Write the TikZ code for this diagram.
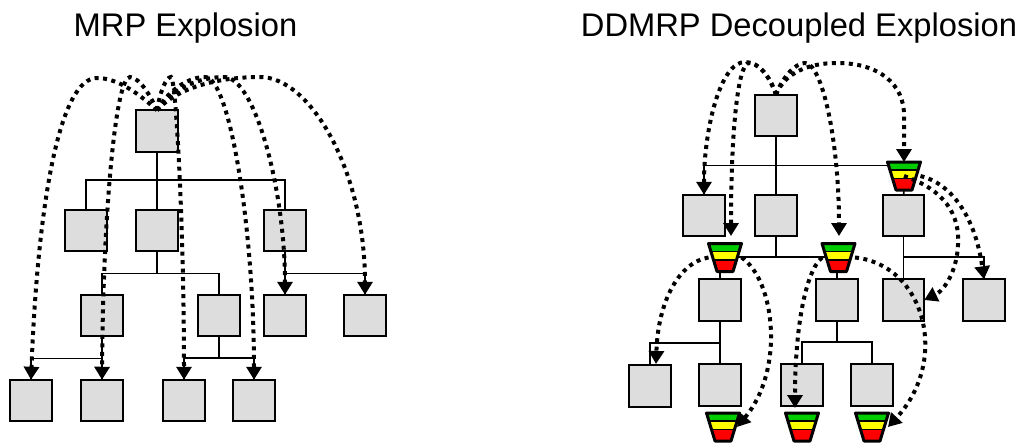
\documentclass[tikz,border=0pt]{standalone}
\usepackage{fontspec}
\setmainfont{Liberation Sans}
\usetikzlibrary{arrows.meta}
\pgfdeclarelayer{edgelayer}
\pgfdeclarelayer{nodelayer}
\pgfsetlayers{edgelayer,nodelayer,main}
\definecolor{boxgray}{RGB}{221,221,221}
\definecolor{bandgreen}{RGB}{0,204,0}
\definecolor{bandyellow}{RGB}{255,255,0}
\definecolor{bandred}{RGB}{255,0,0}
\tikzstyle{partbox}=[rectangle, fill=boxgray, draw=black, line width=1.6pt, minimum size=41.5pt, inner sep=0pt, outer sep=0pt]
\tikzstyle{stackbox}=[rectangle, minimum width=33pt, minimum height=28pt, inner sep=0pt, outer sep=0pt]
\tikzstyle{link}=[-, draw=black, line width=1.6pt]
\tikzstyle{flow}=[draw=black, line width=4pt, dash pattern=on 4pt off 4.5pt, -{Triangle[width=15pt,length=13pt]}]
\tikzstyle{title}=[font=\fontsize{32.7}{36}\selectfont, inner sep=0pt]
\newcommand{\funnel}[3]{
    \node [style=stackbox] (#1) at (#2, #3) {};
    \begin{scope}[shift={(#2, #3)}]
        \begin{scope}
            \clip (-16.5, -14) -- (16.5, -14) -- (8, 14) -- (-8, 14) -- cycle;
            \fill [bandgreen] (-17, -14) rectangle (17, -6);
            \fill [bandyellow] (-17, -6) rectangle (17, 2.5);
            \fill [bandred] (-17, 2.5) rectangle (17, 14);
            \draw [style=link] (-17, -6) -- (17, -6);
            \draw [style=link] (-17, 2.5) -- (17, 2.5);
        \end{scope}
        \draw [line width=3pt, line join=round] (-16.5, -14) -- (16.5, -14) -- (8, 14) -- (-8, 14) -- cycle;
    \end{scope}
}
\begin{document}
\begin{tikzpicture}[x=1pt, y=-1pt]
    \useasboundingbox (0, 0) rectangle (1021, 444);
    \node [style=title] (mrp) at (185.5, 28) {MRP Explosion};
    \node [style=title] (ddmrp) at (799, 28) {DDMRP Decoupled Explosion};

    % left chart
    \begin{pgfonlayer}{nodelayer}
        \node [style=partbox] (l0) at (157, 131) {};
        \node [style=partbox] (l1) at (86, 230.5) {};
        \node [style=partbox] (l2) at (157, 230.5) {};
        \node [style=partbox] (l3) at (285, 230.5) {};
        \node [style=partbox] (l4) at (102, 315.5) {};
        \node [style=partbox] (l5) at (219, 315.5) {};
        \node [style=partbox] (l6) at (285, 315.5) {};
        \node [style=partbox] (l7) at (365, 315.5) {};
        \node [style=partbox] (l8) at (31, 400.5) {};
        \node [style=partbox] (l9) at (102, 400.5) {};
        \node [style=partbox] (l10) at (184, 400.5) {};
        \node [style=partbox] (l11) at (254, 400.5) {};
    \end{pgfonlayer}
    \coordinate (lbusa) at (157, 180);
    \coordinate (lbusb) at (157, 273.5);
    \coordinate (lbusc) at (285, 273.5);
    \coordinate (lbusd) at (102, 358.5);
    \coordinate (lbuse) at (219, 358);
    \begin{pgfonlayer}{edgelayer}
        \draw [style=link] (l0) to (l2);
        \draw [style=link] (l1.north) |- (lbusa) -| (l3.north);
        \draw [style=link] (l2) to (lbusb);
        \draw [style=link] (l4.north) |- (lbusb) -| (l5.north);
        \draw [style=link] (l3) to (l6);
        \draw [style=link] (lbusc) -| (l7.north);
        \draw [style=link] (l4) to (l9);
        \draw [style=link] (lbusd) -| (l8.north);
        \draw [style=link] (l5) to (lbuse);
        \draw [style=link] (l10.north) |- (lbuse) -| (l11.north);
    \end{pgfonlayer}
    \draw [style=flow] (l0.north) .. controls (135, 90) and (115, 78) .. (97, 78) .. controls (60, 78) and (38, 200) .. (l8.north);
    \draw [style=flow] (l0.north) .. controls (150, 95) and (140, 78) .. (130, 77) .. controls (115, 77) and (103, 220) .. (l9.north);
    \draw [style=flow] (l0.north) .. controls (160, 92) and (166, 77) .. (171, 77) .. controls (176, 77) and (184, 230) .. (l10.north);
    \draw [style=flow] (l0.north) .. controls (170, 88) and (190, 77) .. (205, 77) .. controls (230, 77) and (254, 230) .. (l11.north);
    \draw [style=flow] (l0.north) .. controls (175, 85) and (205, 77) .. (224, 77) .. controls (255, 77) and (285, 190) .. (l6.north);
    \draw [style=flow] (l0.north) .. controls (180, 85) and (225, 77) .. (260, 77) .. controls (310, 77) and (365, 170) .. (l7.north);

    % right chart
    \begin{pgfonlayer}{nodelayer}
        \node [style=partbox] (r0) at (776, 115.5) {};
        \node [style=partbox] (r1) at (704, 215.5) {};
        \node [style=partbox] (r2) at (776, 215.5) {};
        \node [style=partbox] (r3) at (903.5, 215.5) {};
        \node [style=partbox] (r4) at (720, 300) {};
        \node [style=partbox] (r5) at (837, 300) {};
        \node [style=partbox] (r6) at (903.5, 300) {};
        \node [style=partbox] (r7) at (984, 300) {};
        \node [style=partbox] (r8) at (650, 386) {};
        \node [style=partbox] (r9) at (720, 385) {};
        \node [style=partbox] (r10) at (802, 385) {};
        \node [style=partbox] (r11) at (872, 385) {};
    \end{pgfonlayer}
    \coordinate (rbusa) at (776, 165.5);
    \coordinate (rbusb) at (776, 257);
    \coordinate (rbusc) at (903.5, 257);
    \coordinate (rbusd) at (720, 343);
    \coordinate (rbuse) at (837, 342);
    \begin{pgfonlayer}{edgelayer}
        \draw [style=link] (r0) to (r2);
        \draw [style=link] (r1.north) |- (rbusa) -- (890, 165.5);
        \draw [style=link] (r2) to (rbusb);
        \draw [style=link] (730, 257) -- (rbusb) -- (830, 257);
        \draw [style=link] (r3) to (r6);
        \draw [style=link] (rbusc) -| (r7.north);
        \draw [style=link] (904, 176) -- (r3);
        \draw [style=link] (720, 257) -- (r4);
        \draw [style=link] (837, 257) -- (r5);
        \draw [style=link] (r4) to (r9);
        \draw [style=link] (rbusd) -| (r8.north);
        \draw [style=link] (r5) to (rbuse);
        \draw [style=link] (r10.north) |- (rbuse) -| (r11.north);
    \end{pgfonlayer}
    \funnel{fc}{904}{176}
    \funnel{fa}{725}{257.5}
    \funnel{fb}{838.5}{257.5}
    \funnel{fd}{723}{427}
    \funnel{fe}{802}{427}
    \funnel{ff}{872}{427}
    \coordinate (tipa) at (731, 236);
    \coordinate (tipb) at (839, 236);
    \coordinate (tipc) at (656, 364);
    \coordinate (tipd) at (737, 427);
    \coordinate (tipe) at (795, 408);
    \coordinate (tipf) at (888, 427);
    \draw [style=flow] (r0.north) .. controls (770, 78) and (760, 62) .. (745, 62) .. controls (720, 62) and (704, 130) .. (r1.north);
    \draw [style=flow] (r0.north) .. controls (770, 75) and (758, 63) .. (749, 63) .. controls (738, 63) and (731, 130) .. (tipa);
    \draw [style=flow] (r0.north) .. controls (782, 78) and (795, 63) .. (805, 63) .. controls (822, 63) and (839, 140) .. (tipb);
    \draw [style=flow] (r0.north) .. controls (785, 72) and (810, 63) .. (837, 63) .. controls (880, 63) and (904, 85) .. (904, 115) -- (fc.north);
    \draw [style=flow] (fc.center) .. controls (945, 190) and (960, 215) .. (958, 245) .. controls (957, 270) and (945, 290) .. (r6.east);
    \draw [style=flow] (fc.east) .. controls (950, 183) and (975, 215) .. (r7.north);
    \draw [style=flow] (fa.west) .. controls (680, 262) and (658, 300) .. (tipc);
    \draw [style=flow] (fa.east) .. controls (775, 280) and (785, 370) .. (tipd);
    \draw [style=flow] (fb.west) .. controls (805, 272) and (795, 330) .. (tipe);
    \draw [style=flow] (fb.east) .. controls (925, 265) and (950, 360) .. (tipf);
\end{tikzpicture}
\end{document}
